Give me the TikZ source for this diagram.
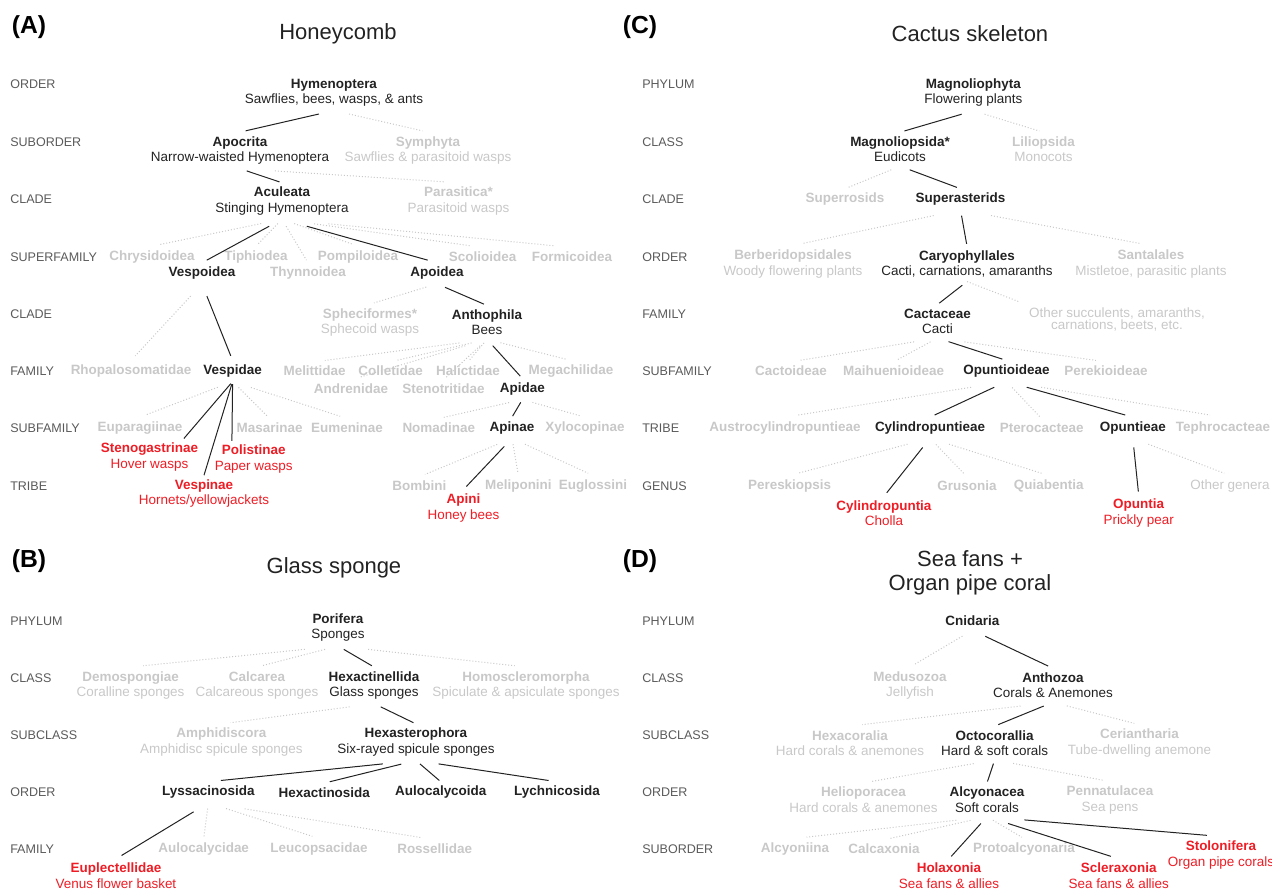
\documentclass[tikz,border=0pt]{standalone}
\usepackage{fontspec}
\setmainfont{Liberation Sans}
\usetikzlibrary{calc}
\definecolor{txtdark}{HTML}{222222}
\definecolor{txtpale}{HTML}{C8C8C8}
\definecolor{txtred}{HTML}{EE1D25}
\definecolor{txtrank}{HTML}{5A5A5A}
\newcommand{\taxon}[2]{\textbf{#1}\\#2}
\newcommand{\tightfont}{\fontsize{10.1}{8.6}\selectfont\lineskiplimit=-5pt\relax}
\newcommand{\joinup}[3]{\draw[#1] ($(#2.south)!0.16!(#3.north)$) -- ($(#2.south)!0.94!(#3.north)$);}

\begin{document}
\begin{tikzpicture}[x=0.75pt,y=-0.75pt,
  every node/.style={font=\fontsize{10.1}{11.6}\selectfont,align=center,inner sep=3pt},
  main/.style={text=txtdark},
  pale/.style={text=txtpale},
  hit/.style={text=txtred},
  rank/.style={text=txtrank,anchor=west,inner sep=0pt,font=\fontsize{9.4}{11}\selectfont},
  head/.style={text=txtdark,font=\fontsize{16.5}{18}\selectfont},
  tag/.style={text=black,font=\fontsize{18.5}{20}\selectfont\bfseries},
  link/.style={draw=txtdark,line width=0.75pt},
  faint/.style={draw=txtpale,line width=0.75pt,dash pattern=on 0.75pt off 1.5pt}]
\useasboundingbox (0,0) rectangle (1272,890);

\node[tag] (tagA) at (29,27) {(A)};
\node[head] (headA) at (338,34) {Honeycomb};
\foreach \yy/\rk [count=\i] in {84/ORDER,142/SUBORDER,199/CLADE,257/SUPERFAMILY,314/CLADE,371/FAMILY,428/SUBFAMILY,486/TRIBE}
  \node[rank] (rankA\i) at (10,\yy) {\rk};
\node[main] (hym) at (334,92.5) {\taxon{Hymenoptera}{Sawflies, bees, wasps, \& ants}};
\node[main] (apo) at (240,150.4) {\taxon{Apocrita}{Narrow-waisted Hymenoptera}};
\node[pale] (sym) at (428,150.4) {\taxon{Symphyta}{Sawflies \& parasitoid wasps}};
\node[main] (acu) at (282,201) {\taxon{Aculeata}{Stinging Hymenoptera}};
\node[pale] (par) at (458.5,201) {\taxon{Parasitica*}{Parasitoid wasps}};
\node[pale] (chr) at (152,256.7) {\textbf{Chrysidoidea}};
\node[pale] (tip) at (256,256.7) {\textbf{Tiphiodea}};
\node[pale] (pom) at (358,256.7) {\textbf{Pompiloidea}};
\node[pale] (sco) at (482.6,256.7) {\textbf{Scolioidea}};
\node[pale] (frm) at (572,256.7) {\textbf{Formicoidea}};
\node[main] (vsp) at (202,273.3) {\textbf{Vespoidea}};
\node[pale] (thy) at (308,273.3) {\textbf{Thynnoidea}};
\node[main] (apd) at (437,273.3) {\textbf{Apoidea}};
\node[pale] (sph) at (370,322.4) {\taxon{Spheciformes*}{Sphecoid wasps}};
\node[main] (ant) at (487,322.4) {\taxon{Anthophila}{Bees}};
\node[pale] (rho) at (131,371) {\textbf{Rhopalosomatidae}};
\node[main] (vspd) at (232.6,371) {\textbf{Vespidae}};
\node[pale] (mel) at (314.6,371) {\textbf{Melittidae}};
\node[pale] (col) at (390.6,371) {\textbf{Colletidae}};
\node[pale] (hal) at (468,371) {\textbf{Halictidae}};
\node[pale] (meg) at (571,371) {\textbf{Megachilidae}};
\node[pale] (adr) at (351,389) {\textbf{Andrenidae}};
\node[pale] (stn) at (443.5,389) {\textbf{Stenotritidae}};
\node[main] (apdae) at (522.4,389) {\textbf{Apidae}};
\node[pale] (eup) at (140,427.7) {\textbf{Euparagiinae}};
\node[pale] (mas) at (269.6,427.7) {\textbf{Masarinae}};
\node[pale] (eum) at (347,427.7) {\textbf{Eumeninae}};
\node[pale] (nom) at (438.8,427.7) {\textbf{Nomadinae}};
\node[main] (apn) at (512,427.7) {\textbf{Apinae}};
\node[pale] (xyl) at (585,427.7) {\textbf{Xylocopinae}};
\node[hit] (stg) at (149.5,456.8) {\taxon{Stenogastrinae}{Hover wasps}};
\node[hit] (pol) at (253.7,459.2) {\taxon{Polistinae}{Paper wasps}};
\node[hit] (vpn) at (204,493.5) {\taxon{Vespinae}{Hornets/yellowjackets}};
\node[pale] (bom) at (419.4,486) {\textbf{Bombini}};
\node[pale] (mlp) at (518.4,486) {\textbf{Meliponini}};
\node[pale] (eug) at (593,486) {\textbf{Euglossini}};
\node[hit] (api) at (463.5,507.8) {\taxon{Apini}{Honey bees}};
\joinup{faint}{hym}{sym}
\joinup{faint}{apo}{par}
\foreach \c in {chr,tip,thy,pom,sco,frm} {\joinup{faint}{acu}{\c}}
\joinup{faint}{vsp}{rho}
\joinup{faint}{apd}{sph}
\foreach \c in {mel,adr,col,stn,hal,meg} {\joinup{faint}{ant}{\c}}
\foreach \c in {eup,mas,eum} {\joinup{faint}{vspd}{\c}}
\foreach \c in {nom,xyl} {\joinup{faint}{apdae}{\c}}
\foreach \c in {bom,mlp,eug} {\joinup{faint}{apn}{\c}}
\joinup{link}{hym}{apo}
\joinup{link}{apo}{acu}
\joinup{link}{acu}{vsp}
\joinup{link}{acu}{apd}
\joinup{link}{vsp}{vspd}
\joinup{link}{apd}{ant}
\joinup{link}{ant}{apdae}
\draw[link,shorten <=2pt] (vspd.south) -- (stg.28);
\draw[link,shorten <=2pt] (vspd.south) -- (vpn.north);
\draw[link,shorten <=2pt] (vspd.south) -- (pol.140);
\joinup{link}{apdae}{apn}
\joinup{link}{apn}{api}

\node[tag] (tagC) at (640,27) {(C)};
\node[head] (headC) at (970,34) {Cactus skeleton};
\foreach \yy/\rk [count=\i] in {84/PHYLUM,142/CLASS,199/CLADE,257/ORDER,314/FAMILY,371/SUBFAMILY,428/TRIBE,486/GENUS}
  \node[rank] (rankC\i) at (642,\yy) {\rk};
\node[main] (mph) at (973.4,92.5) {\taxon{Magnoliophyta}{Flowering plants}};
\node[main] (mps) at (900,149.2) {\taxon{Magnoliopsida*}{Eudicots}};
\node[pale] (lil) at (1043.5,149.2) {\taxon{Liliopsida}{Monocots}};
\node[pale] (sro) at (845,199.3) {\textbf{Superrosids}};
\node[main] (sas) at (960.5,199.3) {\textbf{Superasterids}};
\node[pale] (ber) at (793,263.8) {\taxon{Berberidopsidales}{Woody flowering plants}};
\node[main] (car) at (967,263.8) {\taxon{Caryophyllales}{Cacti, carnations, amaranths}};
\node[pale] (san) at (1151,263.8) {\taxon{Santalales}{Mistletoe, parasitic plants}};
\node[main] (cac) at (937.5,321.3) {\taxon{Cactaceae}{Cacti}};
\node[pale,font=\tightfont] (oth) at (1117,319.7) {Other succulents, amaranths,\\carnations, beets, etc.};
\node[pale] (cto) at (791,371) {\textbf{Cactoideae}};
\node[pale] (mhu) at (893.6,371) {\textbf{Maihuenioideae}};
\node[main] (opd) at (1006.5,371) {\textbf{Opuntioideae}};
\node[pale] (prk) at (1106,371) {\textbf{Perekioideae}};
\node[pale] (aus) at (785,427.7) {\textbf{Austrocylindropuntieae}};
\node[main] (cyl) at (930,427.7) {\textbf{Cylindropuntieae}};
\node[pale] (ptr) at (1041.7,427.7) {\textbf{Pterocacteae}};
\node[main] (opt) at (1132.8,427.7) {\textbf{Opuntieae}};
\node[pale] (tph) at (1223,427.7) {\textbf{Tephrocacteae}};
\node[pale] (prs) at (789.6,486) {\textbf{Pereskiopsis}};
\node[pale] (gru) at (967,486) {\textbf{Grusonia}};
\node[pale] (qui) at (1048.8,486) {\textbf{Quiabentia}};
\node[pale] (ogn) at (1230,486) {Other genera};
\node[hit] (cyt) at (884,513.2) {\taxon{Cylindropuntia}{Cholla}};
\node[hit] (opn) at (1138.7,513.2) {\taxon{Opuntia}{Prickly pear}};
\joinup{faint}{mph}{lil}
\joinup{faint}{mps}{sro}
\foreach \c in {ber,san} {\joinup{faint}{sas}{\c}}
\draw[faint,shorten >=4pt] (car.south) -- (oth.north west);
\foreach \c in {cto,mhu,prk} {\joinup{faint}{cac}{\c}}
\foreach \c in {aus,ptr,tph} {\joinup{faint}{opd}{\c}}
\foreach \c in {prs,gru,qui} {\joinup{faint}{cyl}{\c}}
\joinup{faint}{opt}{ogn}
\joinup{link}{mph}{mps}
\joinup{link}{mps}{sas}
\joinup{link}{sas}{car}
\joinup{link}{car}{cac}
\joinup{link}{cac}{opd}
\foreach \c in {cyl,opt} {\joinup{link}{opd}{\c}}
\joinup{link}{cyl}{cyt}
\joinup{link}{opt}{opn}

\node[tag] (tagB) at (29,561) {(B)};
\node[head] (headB) at (334,568) {Glass sponge};
\foreach \yy/\rk [count=\i] in {621/PHYLUM,678/CLASS,735/SUBCLASS,792/ORDER,849/FAMILY}
  \node[rank] (rankB\i) at (10,\yy) {\rk};
\node[main] (por) at (338,627.7) {\taxon{Porifera}{Sponges}};
\node[pale] (dem) at (130.6,685.3) {\taxon{Demospongiae}{Coralline sponges}};
\node[pale] (clc) at (257,685.3) {\taxon{Calcarea}{Calcareous sponges}};
\node[main] (hxl) at (374,685.3) {\taxon{Hexactinellida}{Glass sponges}};
\node[pale] (hom) at (526,685.3) {\taxon{Homoscleromorpha}{Spiculate \& apsiculate sponges}};
\node[pale] (amp) at (221.4,742.2) {\taxon{Amphidiscora}{Amphidisc spicule sponges}};
\node[main] (hxs) at (416,742.2) {\taxon{Hexasterophora}{Six-rayed spicule sponges}};
\node[main] (lys) at (208.4,792.3) {\textbf{Lyssacinosida}};
\node[main] (hxn) at (324.3,792.3) {\textbf{Hexactinosida}};
\node[main] (aul) at (440.8,792.3) {\textbf{Aulocalycoida}};
\node[main] (lyc) at (557,792.3) {\textbf{Lychnicosida}};
\node[pale] (alc) at (203.7,849) {\textbf{Aulocalycidae}};
\node[pale] (leu) at (319,849) {\textbf{Leucopsacidae}};
\node[pale] (ros) at (434.7,849) {\textbf{Rossellidae}};
\node[hit] (epl) at (116,875.8) {\taxon{Euplectellidae}{Venus flower basket}};
\foreach \c in {dem,clc,hom} {\joinup{faint}{por}{\c}}
\joinup{faint}{hxl}{amp}
\foreach \c in {alc,leu,ros} {\joinup{faint}{lys}{\c}}
\joinup{link}{por}{hxl}
\joinup{link}{hxl}{hxs}
\foreach \c in {lys,hxn,aul,lyc} {\joinup{link}{hxs}{\c}}
\joinup{link}{lys}{epl}

\node[tag] (tagD) at (640,561) {(D)};
\node[head] (headD) at (970,573) {Sea fans +\\Organ pipe coral};
\foreach \yy/\rk [count=\i] in {621/PHYLUM,678/CLASS,735/SUBCLASS,792/ORDER,849/SUBORDER}
  \node[rank] (rankD\i) at (642,\yy) {\rk};
\node[main] (cni) at (972.4,621) {\textbf{Cnidaria}};
\node[pale] (med) at (910,685.3) {\taxon{Medusozoa}{Jellyfish}};
\node[main] (atz) at (1053,685.3) {\taxon{Anthozoa}{Corals \& Anemones}};
\node[pale] (hxc) at (850,743) {\taxon{Hexacoralia}{Hard corals \& anemones}};
\node[main] (oct) at (994.7,743) {\taxon{Octocorallia}{Hard \& soft corals}};
\node[pale] (cer) at (1139.5,743) {\taxon{Ceriantharia}{Tube-dwelling anemone}};
\node[pale] (hel) at (863.5,799.8) {\taxon{Helioporacea}{Hard corals \& anemones}};
\node[main] (alcy) at (987,799.8) {\taxon{Alcyonacea}{Soft corals}};
\node[pale] (pen) at (1110,799.8) {\taxon{Pennatulacea}{Sea pens}};
\node[pale] (aln) at (795,849) {\textbf{Alcyoniina}};
\node[pale] (clx) at (884,849) {\textbf{Calcaxonia}};
\node[pale] (pro) at (1024,849) {\textbf{Protoalcyonaria}};
\node[hit] (hol) at (949,875.8) {\taxon{Holaxonia}{Sea fans \& allies}};
\node[hit] (scl) at (1118.8,875.8) {\taxon{Scleraxonia}{Sea fans \& allies}};
\node[hit] (sto) at (1221,854.8) {\taxon{Stolonifera}{Organ pipe corals}};
\joinup{faint}{cni}{med}
\foreach \c in {hxc,cer} {\joinup{faint}{atz}{\c}}
\foreach \c in {hel,pen} {\joinup{faint}{oct}{\c}}
\foreach \c in {aln,clx,pro} {\joinup{faint}{alcy}{\c}}
\joinup{link}{cni}{atz}
\joinup{link}{atz}{oct}
\joinup{link}{oct}{alcy}
\foreach \c in {hol,scl,sto} {\joinup{link}{alcy}{\c}}
\end{tikzpicture}
\end{document}
